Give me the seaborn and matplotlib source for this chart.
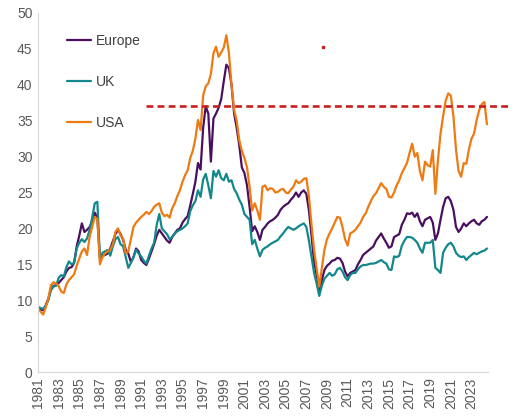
import numpy as np
import pandas as pd
import matplotlib
matplotlib.use("Agg")
import matplotlib.pyplot as plt
import seaborn as sns

# Quarterly positions (decimal years as placed on the chart's axis)
dates = np.arange(1981.0, 2024.51, 0.25)

europe = [
    9.0, 8.7, 8.6, 9.3,  10.2, 11.5, 12.0, 12.1,  12.4, 12.8, 13.2, 14.0,
    14.5, 14.6, 15.2, 17.5,  19.0, 20.7, 19.5, 19.8,  20.2, 21.0, 22.2, 21.5,
    15.8, 16.2, 16.3, 16.5,  17.2, 18.2, 19.2, 19.8,  19.2, 18.4, 17.0, 16.5,
    15.3, 16.0, 17.2, 16.8,  15.6, 15.2, 14.9, 15.8,  16.8, 17.8, 19.0, 19.8,
    19.3, 18.8, 18.3, 18.0,  18.8, 19.3, 19.8, 20.0,  20.8, 21.3, 21.7, 23.2,
    24.8, 26.5, 29.1, 28.2,  34.0, 37.0, 36.0, 29.3,  35.3, 36.0, 36.8, 38.0,
    40.5, 42.8, 42.3, 40.0,  36.0, 34.0, 31.6, 28.5,  27.7, 26.0, 23.0, 19.6,
    20.3, 19.5, 18.4, 19.8,  20.2, 20.7, 21.0, 21.2,  21.5, 21.9, 22.6, 23.0,
    23.3, 23.5, 24.0, 24.4,  25.0, 24.4, 25.0, 25.3,  24.8, 22.5, 19.0, 15.3,
    13.5, 11.4, 12.8, 14.2,  14.8, 15.1, 15.5, 15.6,  15.9, 15.8, 15.2, 14.0,
    13.3, 13.8, 14.0, 14.2,  15.0, 15.6, 16.3, 16.6,  16.9, 17.2, 17.5, 18.3,
    18.8, 19.3, 18.6, 18.0,  17.3, 17.5, 18.8, 19.0,  19.2, 20.5, 21.2, 22.1,
    22.0, 22.2, 21.6, 22.1,  21.0, 20.3, 21.2, 21.4,  21.6, 20.8, 18.4, 19.3,
    21.2, 23.0, 24.2, 24.4,  23.8, 22.6, 20.2, 19.5,  20.0, 20.7, 20.3, 20.7,
    21.0, 21.2, 20.7, 20.5,  21.0, 21.2, 21.6,
]

uk = [
    9.1, 8.9, 8.8, 9.2,  10.0, 11.4, 11.9, 12.0,  13.1, 13.5, 13.3, 14.6,
    15.4, 15.0, 15.2, 17.2,  18.0, 18.5, 18.1, 18.6,  19.8, 21.5, 23.5, 23.7,
    15.9, 16.6, 16.8, 17.0,  16.2, 17.5, 18.5, 18.8,  17.8, 17.5, 16.0, 14.5,
    15.2, 16.0, 17.0, 16.5,  16.1, 15.5, 15.1, 16.2,  17.2, 18.0, 20.5, 22.0,
    20.0, 19.6, 19.2, 18.5,  18.8, 19.3, 19.6, 19.8,  20.0, 20.3, 20.7, 22.4,
    23.2, 23.8, 25.3, 24.4,  26.8, 27.6, 26.0, 24.2,  28.0, 27.2, 28.1, 27.0,
    26.7, 27.6, 26.5, 26.7,  25.5, 24.9, 24.0, 23.3,  22.0, 21.6, 21.2, 17.8,
    18.4, 17.2, 16.1, 17.0,  17.3, 17.5, 17.8, 18.0,  18.2, 18.4, 18.9, 19.3,
    19.8, 20.2, 20.0, 19.8,  20.0, 20.3, 20.5, 20.7,  20.2, 18.3, 16.0, 13.8,
    12.3, 10.6, 12.0, 13.0,  13.4, 13.8, 13.4, 13.6,  14.3, 14.5, 14.0, 13.2,
    12.8, 13.5, 13.8, 13.8,  14.3, 14.7, 14.9, 14.9,  15.0, 15.1, 15.1, 15.2,
    15.4, 15.6, 15.3, 15.1,  14.3, 14.2, 16.1, 16.0,  16.2, 17.6, 18.3, 18.8,
    18.8, 18.7, 18.4, 18.0,  17.2, 16.6, 18.0, 18.0,  18.0, 18.4, 14.5, 14.2,
    13.8, 16.6, 17.3, 17.8,  18.0, 17.5, 16.6, 16.2,  16.0, 16.1, 15.6, 16.0,
    16.3, 16.6, 16.4, 16.6,  16.8, 16.9, 17.2,
]

usa = [
    8.8, 8.4, 8.0, 9.0,  10.2, 12.1, 12.5, 12.3,  12.0, 11.2, 11.0, 12.2,
    12.8, 13.2, 13.6, 14.8,  15.8, 16.8, 17.2, 16.3,  18.8, 20.2, 21.6, 21.3,
    15.0, 16.0, 16.5, 16.8,  17.0, 17.8, 19.5, 20.0,  19.0, 18.6, 16.5, 16.8,
    18.5, 20.2, 20.8, 21.2,  21.6, 21.9, 22.3, 22.0,  22.4, 23.0, 23.3, 23.5,
    22.2, 21.7, 21.9, 21.5,  22.8, 23.5, 24.5, 25.3,  26.5, 27.4, 28.1, 29.8,
    30.8, 32.5, 35.1, 33.7,  38.5, 39.8, 40.2, 41.5,  44.4, 45.3, 43.9, 44.5,
    45.2, 46.9, 44.4, 40.0,  36.5, 35.0, 32.3, 30.8,  29.8, 28.5, 25.8, 22.5,
    23.5, 22.5, 21.2, 25.8,  26.0, 25.3, 25.6, 25.5,  25.0, 25.1, 25.4, 25.5,
    25.0, 24.9, 25.4, 25.8,  26.7, 26.3, 26.5, 26.9,  27.0, 24.5, 20.5, 17.0,
    14.5, 11.9, 14.5, 17.0,  18.5, 19.3, 20.0, 20.8,  21.6, 21.5, 20.2, 18.5,
    17.6, 19.3, 19.5, 19.8,  20.3, 20.8, 21.6, 22.1,  23.0, 23.8, 24.5, 24.9,
    25.6, 26.3, 25.8, 25.5,  24.4, 24.3, 25.0, 26.0,  26.7, 27.7, 28.4, 29.1,
    30.5, 31.8, 30.0, 30.5,  28.0, 26.7, 29.3, 28.8,  28.6, 30.9, 24.8, 29.5,
    33.2, 35.6, 37.8, 38.8,  38.5, 35.6, 31.0, 28.0,  27.2, 29.1, 29.0, 31.0,
    32.5, 33.2, 35.1, 36.5,  37.3, 37.6, 34.5,
]

series_names = ["Europe", "UK", "USA"]
series_colors = ["#4B0F5F", "#13888C", "#EE7A12"]
x_tick_years = list(range(1981, 2024, 2))
y_ticks = list(range(0, 51, 5))
threshold_value = 37
threshold_start = 1991.5
marker_point = (2008.6, 45.3)

df = pd.concat([
    pd.DataFrame({"year": dates, "value": vals, "region": name})
    for name, vals in zip(series_names, [europe, uk, usa])
], ignore_index=True)

sns.set_theme(style="white")
plt.rcParams["font.family"] = ["Liberation Sans", "DejaVu Sans"]

W, H = 518, 420
fig = plt.figure(figsize=(W / 100, H / 100), dpi=100)
ax = fig.add_axes([38 / W, 1 - 372 / H, (488 - 38) / W, (372 - 13) / H])

sns.lineplot(data=df, x="year", y="value", hue="region", hue_order=series_names,
             palette=dict(zip(series_names, series_colors)), linewidth=1.6, ax=ax)

ax.set_xlim(1981.0, 2024.6)
ax.set_ylim(0, 50)
ax.set_xticks(x_tick_years)
ax.set_xticklabels([str(y) for y in x_tick_years], rotation=90)
ax.set_yticks(y_ticks)
ax.tick_params(axis="both", length=0, labelsize=10, colors="#595959", pad=4)
ax.set_xlabel("")
ax.set_ylabel("")

for s in ["top", "right"]:
    ax.spines[s].set_visible(False)
for s in ["left", "bottom"]:
    ax.spines[s].set_color("#D9D9D9")
    ax.spines[s].set_linewidth(0.9)

# Threshold dashed line (extends past the plot edge as in the reference)
x_end = ax.get_xlim()[1] + (ax.get_xlim()[1] - ax.get_xlim()[0]) * (23 / 450)
ax.hlines(threshold_value, threshold_start, x_end, colors="#C8201E",
          linestyles=(0, (2.6, 1.6)), linewidth=1.9, clip_on=False, zorder=5)
ax.plot([marker_point[0]], [marker_point[1]], marker="s", markersize=1.6,
        color="#C8201E", linestyle="none")

handles, labels = ax.get_legend_handles_labels()
leg = ax.legend(handles, labels, loc="upper left",
                bbox_to_anchor=(67 / W, 1 - 34 / H), bbox_transform=fig.transFigure,
                frameon=False, fontsize=10, labelspacing=1.95, handlelength=1.75,
                handletextpad=0.3, borderpad=0, borderaxespad=0)
for t in leg.get_texts():
    t.set_color("#404040")

fig.savefig("out.png", dpi=100)
